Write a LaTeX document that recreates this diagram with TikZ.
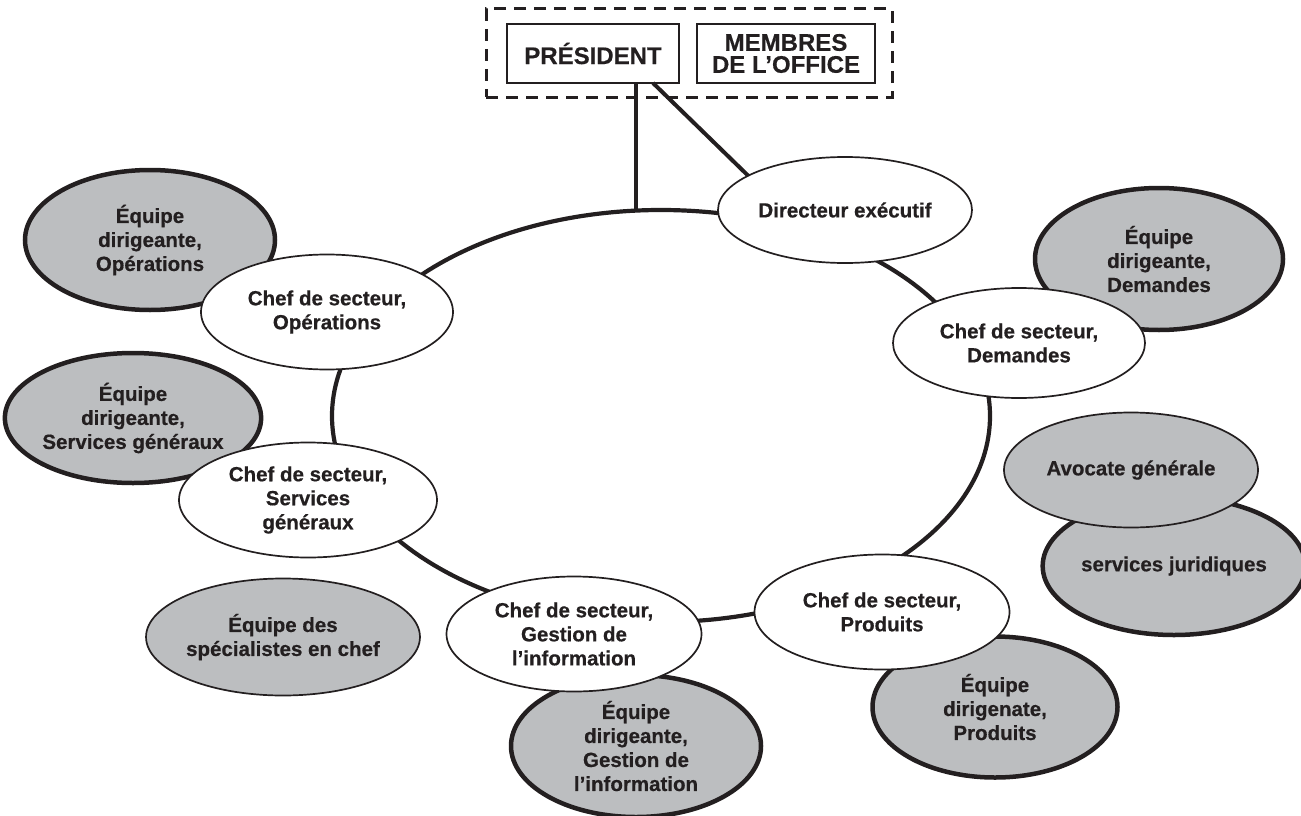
\documentclass[tikz,border=0pt]{standalone}
\usepackage{fontspec}
\setmainfont[BoldFeatures={FakeBold=0.5}]{Liberation Sans}
\usetikzlibrary{shapes.geometric}
\definecolor{ink}{HTML}{231F20}
\definecolor{greyfill}{HTML}{BCBEC0}
\begin{document}
\begin{tikzpicture}[x=1pt,y=-1pt,
  every node/.style={text=ink, font=\bfseries\fontsize{20.5}{24}\selectfont, align=center},
  chef/.style={ellipse, draw=ink, line width=1.7pt, fill=white, inner sep=0pt},
  team/.style={ellipse, draw=ink, line width=4.5pt, fill=greyfill, inner sep=0pt},
  teamthin/.style={ellipse, draw=ink, line width=1.7pt, fill=greyfill, inner sep=0pt},
  topbox/.style={rectangle, draw=ink, line width=2.2pt, inner sep=0pt,
    font=\bfseries\fontsize{24}{22}\selectfont},
  groupbox/.style={rectangle, draw=ink, line width=3pt, dash pattern=on 12pt off 8pt, inner sep=0pt},
  link/.style={draw=ink, line width=4pt},
  ring/.style={draw=ink, line width=4.2pt}]
\useasboundingbox (0,0) rectangle (1301,816);

% top group
\node[groupbox, minimum width=406pt, minimum height=88pt] (group) at (689,53) {};
\node[topbox, minimum width=172pt, minimum height=59pt] (pres) at (593,53.5) {PRÉSIDENT};
\node[topbox, minimum width=178pt, minimum height=59pt] (membres) at (786,53.5) {MEMBRES\\DE L’OFFICE};

% ring
\draw[ring] (661,416) ellipse [x radius=329, y radius=206];
\coordinate (ringtop) at (636,211);
\coordinate (presA) at (653,83);
\coordinate (dirA) at (770,197);
\draw[link, line width=3.5pt] (pres.south -| ringtop) -- (ringtop);
\draw[link] (presA) -- (dirA);

% grey teams
\node[team, minimum width=250pt, minimum height=140pt] (tops) at (150,240) {Équipe\\dirigeante,\\Opérations};
\node[team, minimum width=250pt, minimum height=130pt] (tsg) at (133,418) {Équipe\\dirigeante,\\Services généraux};
\node[team, minimum width=248pt, minimum height=142pt] (tdem) at (1159,259) {Équipe\\dirigeante,\\Demandes};
\node[team, minimum width=246pt, minimum height=138pt] (tjur) at (1174,566) {services juridiques};
\node[team, minimum width=245pt, minimum height=141pt] (tprod) at (995,707) {Équipe\\dirigenate,\\Produits};
\node[team, minimum width=250pt, minimum height=142pt] (tgest) at (636,746) {Équipe\\dirigeante,\\Gestion de\\l’information};
\node[teamthin, minimum width=255pt, minimum height=117pt] (tspec) at (283,637) {Équipe des\\spécialistes en chef};
\node[teamthin, minimum width=254pt, minimum height=115pt] (avoc) at (1131,470) {Avocate générale};

% chefs
\node[chef, minimum width=254pt, minimum height=106pt] (dir) at (845,210) {Directeur exécutif};
\node[chef, minimum width=252pt, minimum height=115pt] (cops) at (327,312) {Chef de secteur,\\Opérations};
\node[chef, minimum width=258pt, minimum height=115pt] (csg) at (308,500) {Chef de secteur,\\Services\\généraux};
\node[chef, minimum width=252pt, minimum height=110pt] (cdem) at (1019,343) {Chef de secteur,\\Demandes};
\node[chef, minimum width=255pt, minimum height=115pt] (cgest) at (574,634) {Chef de secteur,\\Gestion de\\l’information};
\node[chef, minimum width=255pt, minimum height=115pt] (cprod) at (882,612) {Chef de secteur,\\Produits};
\end{tikzpicture}
\end{document}
